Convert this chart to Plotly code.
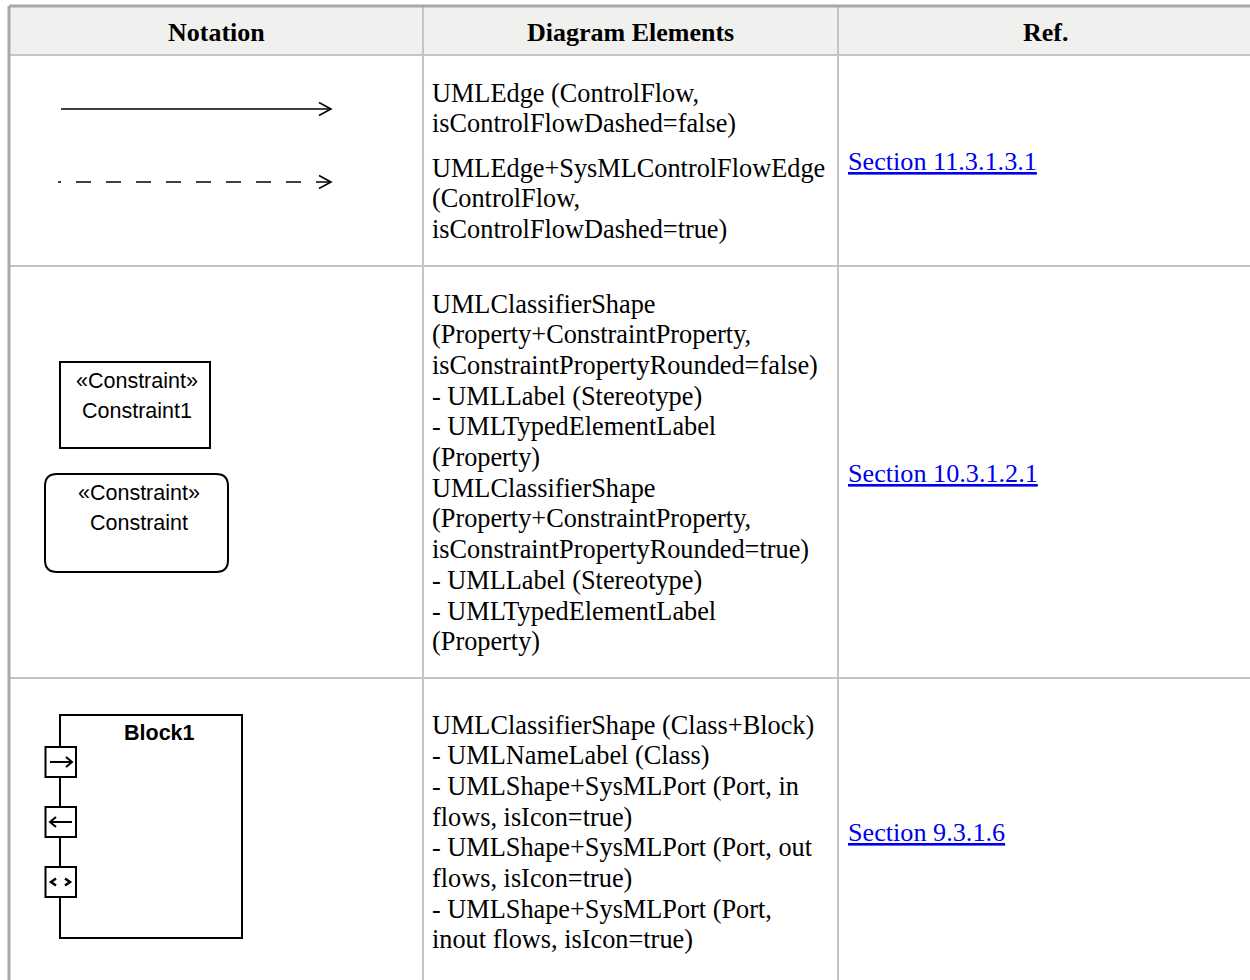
import plotly.graph_objects as go

# ---- table content ----
headers = ["Notation", "Diagram Elements", "Ref."]
row1_paras = [["UMLEdge (ControlFlow,", "isControlFlowDashed=false)"],
              ["UMLEdge+SysMLControlFlowEdge", "(ControlFlow,", "isControlFlowDashed=true)"]]
row2_lines = ["UMLClassifierShape", "(Property+ConstraintProperty,",
              "isConstraintPropertyRounded=false)", "- UMLLabel (Stereotype)",
              "- UMLTypedElementLabel", "(Property)", "UMLClassifierShape",
              "(Property+ConstraintProperty,", "isConstraintPropertyRounded=true)",
              "- UMLLabel (Stereotype)", "- UMLTypedElementLabel", "(Property)"]
row3_lines = ["UMLClassifierShape (Class+Block)", "- UMLNameLabel (Class)",
              "- UMLShape+SysMLPort (Port, in", "flows, isIcon=true)",
              "- UMLShape+SysMLPort (Port, out", "flows, isIcon=true)",
              "- UMLShape+SysMLPort (Port,", "inout flows, isIcon=true)"]
refs = ["Section 11.3.1.3.1", "Section 10.3.1.2.1", "Section 9.3.1.6"]
constraint_labels = [["«Constraint»", "Constraint1"], ["«Constraint»", "Constraint"]]
block_name = "Block1"

# ---- layout geometry ----
W, H = 1250, 980
col_x = [9, 423, 838, 1253]
row_y = [6, 55, 266, 678, 1000]
LH = 30.7
SERIF = "Liberation Serif"
SANS = "Liberation Sans"
GRID = "#c4c4c4"
OUTER = "#a8a8a8"

fig = go.Figure()
fig.add_trace(go.Scatter(x=[0, W], y=[0, H], mode="markers", marker=dict(opacity=0),
                         hoverinfo="skip", showlegend=False))
shapes = []
ann = []

# header background
shapes.append(dict(type="rect", x0=col_x[0], x1=col_x[3], y0=row_y[0], y1=row_y[1],
                   fillcolor="#f0f1ef", line=dict(width=0), layer="below"))
# inner grid
for y in row_y[1:4]:
    shapes.append(dict(type="line", x0=col_x[0], x1=col_x[3], y0=y, y1=y,
                       line=dict(color=GRID, width=2)))
for x in col_x[1:3]:
    shapes.append(dict(type="line", x0=x, x1=x, y0=row_y[0], y1=H,
                       line=dict(color=GRID, width=2)))
# outer border
shapes.append(dict(type="line", x0=col_x[0], x1=col_x[3], y0=row_y[0], y1=row_y[0],
                   line=dict(color=OUTER, width=3)))
shapes.append(dict(type="line", x0=col_x[0], x1=col_x[0], y0=row_y[0], y1=H,
                   line=dict(color=OUTER, width=3)))

# headers
for i, h in enumerate(headers):
    ann.append(dict(x=(col_x[i] + col_x[i + 1]) / 2, y=32, text=f"<b>{h}</b>",
                    font=dict(family=SERIF, size=26, color="black"),
                    xanchor="center", yanchor="middle", showarrow=False))

def add_lines(lines, y0):
    for k, t in enumerate(lines):
        ann.append(dict(x=430, y=y0 + k * LH, text=t,
                        font=dict(family=SERIF, size=26.3, color="black"),
                        xanchor="left", yanchor="middle", showarrow=False))

add_lines(row1_paras[0], 93)
add_lines(row1_paras[1], 168)
add_lines(row2_lines, 304)
add_lines(row3_lines, 725)

for t, y in zip(refs, [161, 473, 832]):
    ann.append(dict(x=846, y=y, text=t,
                    font=dict(family=SERIF, size=26.2, color="#0000ee", lineposition="under"),
                    xanchor="left", yanchor="middle", showarrow=False))

BLK = dict(color="black", width=1.6)
# control flow arrows
shapes.append(dict(type="path", path="M61,109 L331,109", line=BLK))
shapes.append(dict(type="path", path="M319,102.5 L331,109 L319,115.5", line=BLK))
shapes.append(dict(type="path", path="M331,182 L58,182", line=dict(color="black", width=1.7, dash="15px,15px")))
shapes.append(dict(type="path", path="M319,175.5 L331,182 L319,188.5", line=BLK))

# constraint boxes
B2 = dict(color="black", width=2)
shapes.append(dict(type="rect", x0=60, x1=210, y0=362, y1=448, line=B2))
r = 12
x0, x1, y0, y1 = 45, 228, 474, 572
shapes.append(dict(type="path", line=B2,
                   path=f"M{x0+r},{y0} L{x1-r},{y0} Q{x1},{y0} {x1},{y0+r} L{x1},{y1-r} "
                        f"Q{x1},{y1} {x1-r},{y1} L{x0+r},{y1} Q{x0},{y1} {x0},{y1-r} "
                        f"L{x0},{y0+r} Q{x0},{y0} {x0+r},{y0} Z"))
for (lab, cx, ys) in [(constraint_labels[0], 137, (381, 411)), (constraint_labels[1], 139, (493, 523))]:
    for t, yy in zip(lab, ys):
        ann.append(dict(x=cx, y=yy, text=t, font=dict(family=SANS, size=21.5, color="black"),
                        xanchor="center", yanchor="middle", showarrow=False))

# block with ports
shapes.append(dict(type="rect", x0=60, x1=242, y0=715, y1=938, line=B2, fillcolor="white"))
ann.append(dict(x=159, y=733, text=f"<b>{block_name}</b>", font=dict(family=SANS, size=21.5, color="black"),
                xanchor="center", yanchor="middle", showarrow=False))
for py in (747, 807, 867):
    shapes.append(dict(type="rect", x0=45.5, x1=76, y0=py, y1=py + 30, line=B2, fillcolor="white"))
# in port icon: ->
shapes.append(dict(type="path", path="M50,762 L72,762 M66,757 L72,762 L66,767", line=B2))
# out port icon: <-
shapes.append(dict(type="path", path="M50,822 L72,822 M56,817 L50,822 L56,827", line=B2))
# inout port icon: <>
shapes.append(dict(type="path", path="M56,878.5 L51,882 L56,885.5 M65,878.5 L70,882 L65,885.5",
                   line=dict(color="black", width=2.5)))

fig.update_layout(
    width=W, height=H, margin=dict(l=0, r=0, t=0, b=0),
    paper_bgcolor="white", plot_bgcolor="white",
    xaxis=dict(range=[0, W], visible=False, fixedrange=True),
    yaxis=dict(range=[H, 0], visible=False, fixedrange=True),
    shapes=shapes, annotations=ann, showlegend=False,
)
fig.write_html("out.html", config={"displayModeBar": False},
               post_script="document.body.style.margin='0';")
